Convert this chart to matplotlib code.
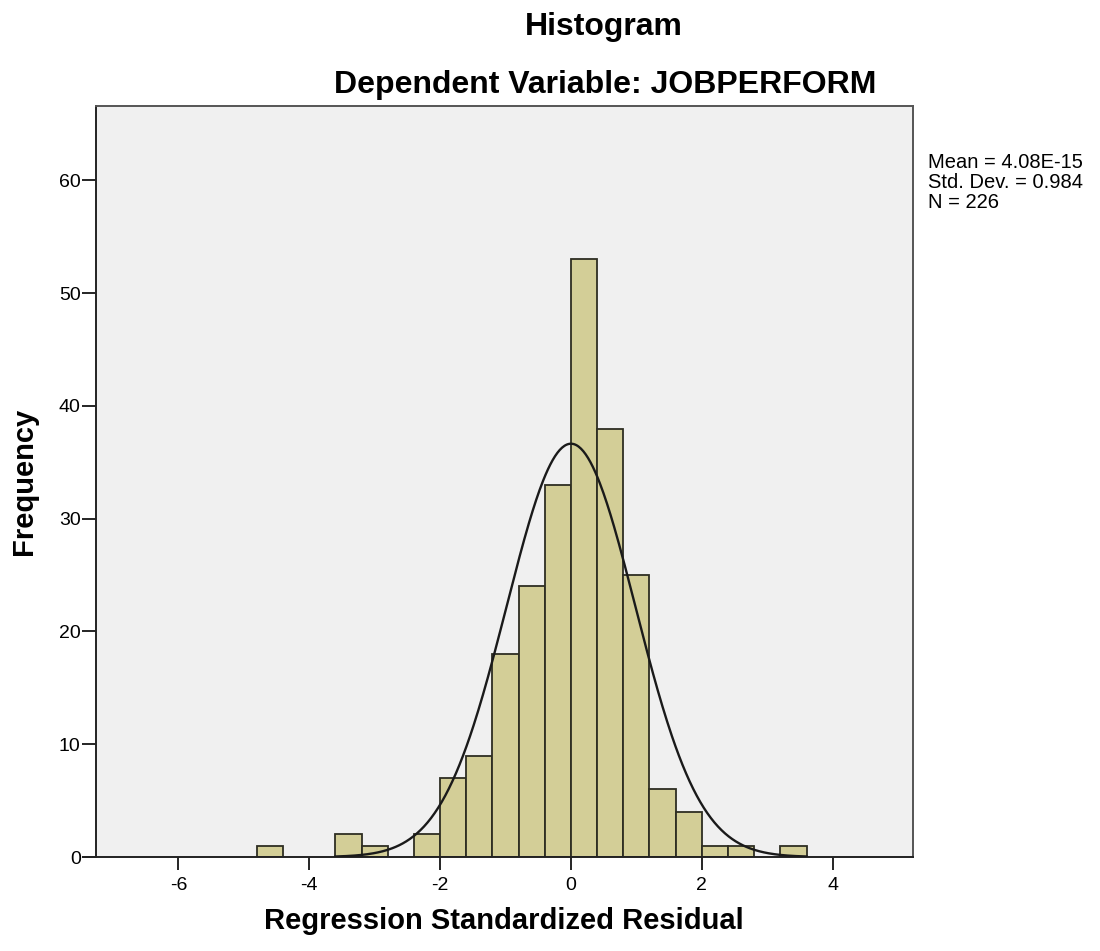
import numpy as np
import matplotlib.pyplot as plt

# histogram bins (left edges, width 0.4) and counts
bin_left = [-4.8, -3.6, -3.2, -2.4, -2.0, -1.6, -1.2, -0.8, -0.4,
            0.0, 0.4, 0.8, 1.2, 1.6, 2.0, 2.4, 3.2]
counts = [1, 2, 1, 2, 7, 9, 18, 24, 33, 53, 38, 25, 6, 4, 1, 1, 1]
bin_width = 0.4

# summary stats shown on the chart
mean = 4.08e-15
std = 0.984
n = 226

x_ticks = [-6, -4, -2, 0, 2, 4]
y_ticks = [0, 10, 20, 30, 40, 50, 60]

plt.rcParams['font.family'] = ['Liberation Sans', 'DejaVu Sans']

fig = plt.figure(figsize=(11, 9.51), dpi=100)
ax = fig.add_axes([96 / 1100, 1 - 857 / 951, (912.5 - 96) / 1100, (857 - 106) / 951])
ax.set_facecolor("#F0F0F0")

ax.bar(bin_left, counts, width=bin_width, align="edge",
       color="#D3CE97", edgecolor="#2E2E22", linewidth=1.3, zorder=2)

# normal curve scaled to the histogram
xs = np.linspace(-3.6, 3.6, 400)
ys = n * bin_width / (std * np.sqrt(2 * np.pi)) * np.exp(-0.5 * ((xs - mean) / std) ** 2)
ax.plot(xs, ys, color="#1A1A1A", linewidth=1.7, zorder=3)

ax.set_xlim(-7.26, 5.22)
ax.set_ylim(0, 66.6)
ax.set_xticks(x_ticks)
ax.set_xticklabels([str(t) for t in x_ticks])
ax.set_yticks(y_ticks)
ax.tick_params(axis="x", direction="out", length=9.5, width=1.2, labelsize=14, pad=5)
ax.tick_params(axis="y", direction="out", length=10, width=1.2, labelsize=14, pad=1)

for side in ["left", "bottom", "top", "right"]:
    ax.spines[side].set_linewidth(1.4)
    ax.spines[side].set_color("#222222")
ax.spines["top"].set_color("#555555")
ax.spines["right"].set_color("#555555")
# baseline runs a little past the left axis, as in the original
ax.plot([-0.016, 0], [0, 0], transform=ax.transAxes, clip_on=False,
        color="#222222", linewidth=1.4)

ax.set_xlabel("Regression Standardized Residual", fontsize=21, fontweight="bold", labelpad=9)
ax.set_ylabel("Frequency", fontsize=21, fontweight="bold", labelpad=15)

fig.text(604 / 1100, 1 - 27 / 951, "Histogram", ha="center", va="center",
         fontsize=23, fontweight="bold")
fig.text(605 / 1100, 1 - 85 / 951, "Dependent Variable: JOBPERFORM", ha="center",
         va="center", fontsize=23, fontweight="bold")

fig.text(928 / 1100, 1 - 153 / 951,
         f"Mean = 4.08E-15\nStd. Dev. = {std}\nN = {n}",
         ha="left", va="top", fontsize=14.5, linespacing=1.08)

fig.savefig("out.png", dpi=100, facecolor="white")
